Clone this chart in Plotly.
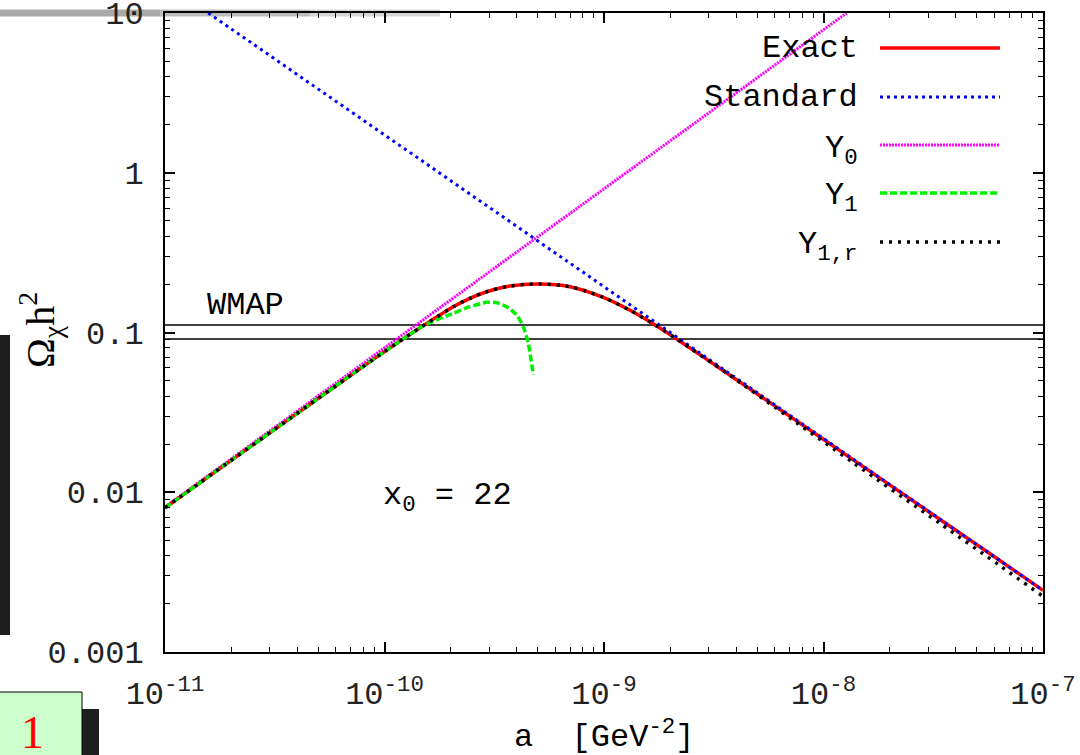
import plotly.graph_objects as go

# ---------------- data ----------------
a_exact = [1.0e-11, 1.91e-11, 3.84e-11, 7.73e-11, 1.0e-10, 1.218e-10, 1.529e-10,
           2.058e-10, 2.452e-10, 2.922e-10, 3.731e-10, 5.109e-10, 7.00e-10,
           9.93e-10, 1.314e-9, 1.739e-9, 2.144e-9, 3.622e-9, 7.285e-9,
           1.367e-8, 3.395e-8, 6.31e-8, 1.0e-7]
omega_exact = [0.00799, 0.01511, 0.02995, 0.05926, 0.07585, 0.09122, 0.1121,
               0.1449, 0.1637, 0.1800, 0.1955, 0.2012, 0.1935,
               0.1659, 0.1377, 0.1098, 0.0910, 0.05577, 0.02891,
               0.01596, 0.006757, 0.003764, 0.002431]

a_y1r = a_exact
omega_y1r = [0.00799, 0.01511, 0.02995, 0.05926, 0.07585, 0.09122, 0.1121,
             0.1449, 0.1637, 0.1800, 0.1955, 0.2012, 0.1935,
             0.1659, 0.1377, 0.1098, 0.0910, 0.05577, 0.02819,
             0.01529, 0.006379, 0.00350, 0.002229]

a_y1 = [1.0e-11, 1.91e-11, 3.84e-11, 7.73e-11, 1.0e-10, 1.218e-10, 1.529e-10,
        2.058e-10, 2.452e-10, 2.922e-10, 3.244e-10, 3.603e-10, 4.001e-10,
        4.287e-10, 4.518e-10, 4.763e-10]
omega_y1 = [0.00799, 0.01511, 0.02995, 0.05926, 0.07585, 0.09122, 0.1115,
            0.1319, 0.1451, 0.1545, 0.1537, 0.1451, 0.1287,
            0.1087, 0.0856, 0.0542]

a_std = [1.575e-11, 1.0e-10, 1.0e-9, 1.0e-8, 1.0e-7]
omega_std = [10.0, 1.726, 0.1935, 0.02169, 0.00243]

a_y0 = [1.0e-11, 1.0e-10, 1.0e-9, 1.275e-8]
omega_y0 = [0.0081, 0.0801, 0.793, 10.0]

wmap_low = 0.0911
wmap_high = 0.1114
a_span = [1.0e-11, 1.0e-7]

x_ticks = [1e-11, 1e-10, 1e-9, 1e-8, 1e-7]
x_ticktext = ["10<sup>-11</sup>", "10<sup>-10</sup>", "10<sup>-9</sup>",
              "10<sup>-8</sup>", "10<sup>-7</sup>"]
y_ticks = [0.001, 0.01, 0.1, 1, 10]
y_ticktext = ["0.001", "0.01", "0.1", "1", "10"]

legend_names = ["Exact", "Standard", "Y<sub>0</sub>", "Y<sub>1</sub>", "Y<sub>1,r</sub>"]

# ---------------- layout helpers ----------------
L, R, T, B = 165, 1043, 13, 652
W, H = 1080, 755


def px_x(p):
    return (p - L) / (R - L)


def px_y(p):
    return (B - p) / (B - T)


MONO = "Liberation Mono"
FS = 32

st_exact = dict(color="#ff0000", width=3.5)
st_std = dict(color="#0000ff", width=3, dash="3px,4px")
st_y0 = dict(color="#ff00ff", width=3, dash="2px,1px")
st_y1 = dict(color="#00ee00", width=3.5, dash="7px,3px")
st_y1r = dict(color="#000000", width=3.5, dash="3px,6px")

fig = go.Figure()

for yv in (wmap_high, wmap_low):
    fig.add_trace(go.Scatter(x=a_span, y=[yv, yv], mode="lines",
                             line=dict(color="black", width=1.5),
                             showlegend=False, hoverinfo="skip"))

fig.add_trace(go.Scatter(x=a_y0, y=omega_y0, mode="lines", line=st_y0,
                         name="Y0", showlegend=False))
fig.add_trace(go.Scatter(x=a_exact, y=omega_exact, mode="lines",
                         line=dict(**st_exact, shape="spline", smoothing=0.8),
                         name="Exact", showlegend=False))
fig.add_trace(go.Scatter(x=a_std, y=omega_std, mode="lines", line=st_std,
                         name="Standard", showlegend=False))
fig.add_trace(go.Scatter(x=a_y1, y=omega_y1, mode="lines",
                         line=dict(**st_y1, shape="spline", smoothing=0.6),
                         name="Y1", showlegend=False))
fig.add_trace(go.Scatter(x=a_y1r, y=omega_y1r, mode="lines",
                         line=dict(**st_y1r, shape="spline", smoothing=0.8),
                         name="Y1,r", showlegend=False))

minor_x = [m * 10 ** e for e in range(-11, -7) for m in range(2, 10)]
minor_y = [m * 10 ** e for e in range(-3, 1) for m in range(2, 10)]

axis_common = dict(
    type="log", showgrid=False, zeroline=False, automargin=False,
    showline=True, linecolor="black", linewidth=2, mirror="ticks",
    ticks="inside", ticklen=10, tickwidth=1.5, tickcolor="black",
    ticklabeloverflow="allow",
    tickfont=dict(family=MONO, size=FS, color="#222222"),
)

fig.update_xaxes(range=[-11, -7], tickmode="array", tickvals=x_ticks,
                 ticktext=x_ticktext, ticklabelstandoff=12,
                 minor=dict(tickmode="array", tickvals=minor_x, ticks="inside",
                            ticklen=5, tickwidth=1.2, tickcolor="black",
                            showgrid=False),
                 **axis_common)
fig.update_yaxes(range=[-3, 1], tickmode="array", tickvals=y_ticks,
                 ticktext=y_ticktext, ticklabelstandoff=13,
                 minor=dict(tickmode="array", tickvals=minor_y, ticks="inside",
                            ticklen=5, tickwidth=1.2, tickcolor="black",
                            showgrid=False),
                 **axis_common)

shapes = []
annotations = []

# legend (text right aligned, sample line to the right)
leg_y = [48, 97, 145, 193, 242]
leg_styles = [st_exact, st_std, st_y0, st_y1, st_y1r]
leg_yshift = [0, 0, -5, -5, -5]
for name, yy, stl, ys in zip(legend_names, leg_y, leg_styles, leg_yshift):
    annotations.append(dict(x=px_x(860), y=px_y(yy), xref="paper", yref="paper",
                            text=name, showarrow=False, xanchor="right",
                            yanchor="middle", yshift=ys,
                            font=dict(family=MONO, size=FS, color="black")))
    shapes.append(dict(type="line", xref="paper", yref="paper",
                       x0=px_x(880), x1=px_x(1000), y0=px_y(yy), y1=px_y(yy),
                       line=stl))

annotations.append(dict(x=px_x(245), y=px_y(305), xref="paper", yref="paper",
                        text="WMAP", showarrow=False, xanchor="center",
                        yanchor="middle",
                        font=dict(family=MONO, size=FS, color="black")))
annotations.append(dict(x=px_x(381), y=px_y(497), xref="paper", yref="paper",
                        text="x<sub>0</sub> = 22", showarrow=False,
                        xanchor="left", yanchor="middle",
                        font=dict(family=MONO, size=FS, color="black")))
annotations.append(dict(x=px_x(604), y=px_y(735), xref="paper", yref="paper",
                        text="a  [GeV<sup>-2</sup>]", showarrow=False,
                        xanchor="center", yanchor="middle",
                        font=dict(family=MONO, size=FS, color="black")))
annotations.append(dict(x=px_x(40), y=px_y(330), xref="paper", yref="paper",
                        text="Ω<sub>χ</sub>h<sup>2</sup>",
                        showarrow=False, textangle=-90,
                        xanchor="center", yanchor="middle",
                        font=dict(family="Liberation Serif", size=40,
                                  color="black")))

# slide decorations around the figure
shapes.append(dict(type="rect", xref="paper", yref="paper", layer="below",
                   x0=px_x(0), x1=px_x(160), y0=px_y(9.5), y1=px_y(16.5),
                   line=dict(width=0), fillcolor="#a9a9a9"))
shapes.append(dict(type="rect", xref="paper", yref="paper", layer="below",
                   x0=px_x(160), x1=px_x(310), y0=px_y(9.5), y1=px_y(16.5),
                   line=dict(width=0), fillcolor="#bdbdbd"))
shapes.append(dict(type="rect", xref="paper", yref="paper", layer="below",
                   x0=px_x(310), x1=px_x(440), y0=px_y(9.5), y1=px_y(16.5),
                   line=dict(width=0), fillcolor="#d6d6d6"))
shapes.append(dict(type="rect", xref="paper", yref="paper",
                   x0=px_x(0), x1=px_x(10), y0=px_y(335), y1=px_y(635),
                   line=dict(width=0), fillcolor="#1e1e1e"))
shapes.append(dict(type="rect", xref="paper", yref="paper",
                   x0=px_x(82), x1=px_x(99), y0=px_y(709), y1=px_y(760),
                   line=dict(width=0), fillcolor="#1e1e1e"))
shapes.append(dict(type="rect", xref="paper", yref="paper",
                   x0=px_x(-5), x1=px_x(82), y0=px_y(692), y1=px_y(760),
                   line=dict(width=1, color="black"), fillcolor="#ccffcc"))
annotations.append(dict(x=px_x(32), y=px_y(732), xref="paper", yref="paper",
                        text="1", showarrow=False, xanchor="center",
                        yanchor="middle",
                        font=dict(family="Liberation Serif", size=46,
                                  color="#ff0000")))

fig.update_layout(
    width=W, height=H, autosize=False,
    margin=dict(l=L, r=W - R, t=T, b=H - B, pad=0, autoexpand=False),
    paper_bgcolor="white", plot_bgcolor="rgba(0,0,0,0)",
    showlegend=False, shapes=shapes, annotations=annotations,
    font=dict(family=MONO, size=FS, color="black"),
)

fig.write_html("out.html", config={"displayModeBar": False},
               post_script="document.body.style.margin='0px';"
                           "document.body.style.overflow='hidden';")
